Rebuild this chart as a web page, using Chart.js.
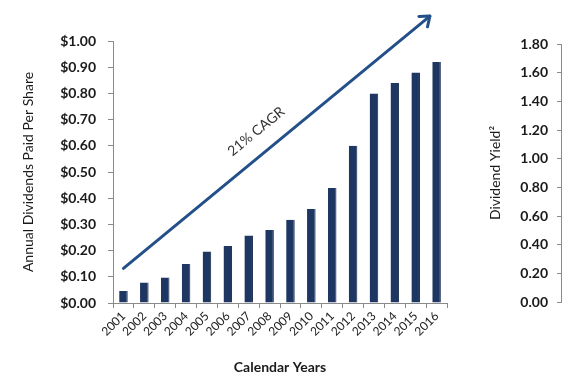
<!DOCTYPE html>
<html>
<head>
<meta charset="utf-8">
<script src="https://cdn.jsdelivr.net/npm/chart.js@4/dist/chart.umd.min.js"></script>
<style>
  html, body { margin: 0; padding: 0; background: #ffffff; }
  #wrap { position: relative; width: 580px; height: 381px; background: #ffffff; }
  #main { position: absolute; left: 0; top: 0; }
  #yieldAxis { position: absolute; left: 470px; top: 0; }
</style>
</head>
<body>
<div id="wrap">
  <canvas id="main" width="580" height="381"></canvas>
  <canvas id="yieldAxis" width="110" height="381"></canvas>
</div>
<script>
// ---- data ----
const years = ['2001','2002','2003','2004','2005','2006','2007','2008','2009','2010','2011','2012','2013','2014','2015','2016'];
const dividends = [0.046, 0.078, 0.097, 0.149, 0.197, 0.218, 0.258, 0.279, 0.318, 0.359, 0.439, 0.600, 0.800, 0.840, 0.880, 0.920];
const dividendAxis = { min: 0, max: 1.0, step: 0.1 };
const yieldAxis = { min: 0, max: 1.8, step: 0.2 };
// CAGR arrow, in data units: [category index, dividend value]
const arrowFrom = [0, 0.132];
const arrowTo = [14.68, 1.095];
const cagrText = '21% CAGR';
const cagrAt = [6.36, 0.655];
const xTitle = 'Calendar Years';
const yTitle = 'Annual Dividends Paid Per Share';
const y2Title = 'Dividend Yield²';

// ---- styles ----
const FONT = 'Lato, "Open Sans", sans-serif';
const TEXT = '#1a1a1a';
const AXIS = '#8a8a8a';
const BAR = '#1d3762';
const ARROW = '#24508a';

const arrowPlugin = {
  id: 'cagrArrow',
  afterDatasetsDraw(chart) {
    const { ctx } = chart;
    const x = chart.scales.x, y = chart.scales.y;
    const x0 = x.getPixelForValue(arrowFrom[0]), y0 = y.getPixelForValue(arrowFrom[1]);
    const x1 = x.getPixelForValue(arrowTo[0]), y1 = y.getPixelForValue(arrowTo[1]);
    const ang = Math.atan2(y1 - y0, x1 - x0);
    ctx.save();
    ctx.strokeStyle = ARROW;
    ctx.lineWidth = 3;
    ctx.lineCap = 'round';
    ctx.lineJoin = 'round';
    ctx.beginPath();
    ctx.moveTo(x0, y0);
    ctx.lineTo(x1, y1);
    ctx.stroke();
    const back = ang + Math.PI, spread = 38 * Math.PI / 180, len = 11;
    ctx.beginPath();
    ctx.moveTo(x1 + len * Math.cos(back - spread), y1 + len * Math.sin(back - spread));
    ctx.lineTo(x1, y1);
    ctx.lineTo(x1 + len * Math.cos(back + spread), y1 + len * Math.sin(back + spread));
    ctx.stroke();
    const tx = x.getPixelForValue(cagrAt[0]), ty = y.getPixelForValue(cagrAt[1]);
    ctx.translate(tx, ty);
    ctx.rotate(ang);
    ctx.fillStyle = '#333333';
    ctx.font = '14px ' + FONT;
    ctx.textAlign = 'center';
    ctx.textBaseline = 'middle';
    ctx.fillText(cagrText, 0, 0);
    ctx.restore();
  }
};

new Chart(document.getElementById('main'), {
  type: 'bar',
  data: {
    labels: years,
    datasets: [{
      data: dividends,
      backgroundColor: BAR,
      borderColor: '#15284a',
      borderWidth: { right: 1, left: 0, top: 0, bottom: 0 },
      borderSkipped: false,
      barPercentage: 0.41,
      categoryPercentage: 1.0
    }]
  },
  plugins: [arrowPlugin],
  options: {
    responsive: false,
    devicePixelRatio: 1,
    animation: false,
    layout: { padding: { top: 41, right: 133, bottom: 0, left: 0 } },
    plugins: { legend: { display: false }, tooltip: { enabled: false } },
    scales: {
      x: {
        type: 'category',
        offset: true,
        grid: { display: true, drawOnChartArea: false, drawTicks: true, tickLength: 5, color: AXIS, offset: true },
        border: { display: true, color: AXIS, width: 1 },
        ticks: { minRotation: 45, maxRotation: 45, autoSkip: false, padding: 1, color: TEXT, font: { family: FONT, size: 12 } },
        title: { display: true, text: xTitle, color: TEXT, font: { family: FONT, size: 14, weight: 'bold' }, padding: { top: 4, bottom: 5 } },
        afterFit(s) { s.height = 78; }
      },
      y: {
        min: dividendAxis.min,
        max: dividendAxis.max,
        grid: { display: true, drawOnChartArea: false, drawTicks: true, tickLength: 5, color: AXIS },
        border: { display: true, color: AXIS, width: 1 },
        ticks: {
          stepSize: dividendAxis.step,
          padding: 12,
          color: TEXT,
          font: { family: FONT, size: 14, weight: 'bold' },
          callback: v => '$' + Number(v).toFixed(2)
        },
        title: { display: true, text: yTitle, color: TEXT, font: { family: FONT, size: 14 }, padding: { top: 20, bottom: 0 } },
        afterFit(s) { s.width = 113; }
      }
    }
  }
});

new Chart(document.getElementById('yieldAxis'), {
  type: 'bar',
  data: { labels: [], datasets: [] },
  options: {
    responsive: false,
    devicePixelRatio: 1,
    animation: false,
    layout: { padding: { top: 44, right: 0, bottom: 79, left: 0 } },
    plugins: { legend: { display: false }, tooltip: { enabled: false } },
    scales: {
      x: { display: false },
      y: {
        position: 'left',
        min: yieldAxis.min,
        max: yieldAxis.max,
        grid: { display: true, drawOnChartArea: false, drawTicks: true, tickLength: 4, color: AXIS },
        border: { display: true, color: AXIS, width: 1 },
        ticks: {
          stepSize: yieldAxis.step,
          padding: 9,
          color: TEXT,
          font: { family: FONT, size: 14, weight: 'bold' },
          callback: v => Number(v).toFixed(2)
        },
        title: { display: true, text: y2Title, color: TEXT, font: { family: FONT, size: 14 }, padding: { top: 17, bottom: 0 } },
        afterFit(s) { s.width = 91; }
      }
    }
  }
});
</script>
</body>
</html>
